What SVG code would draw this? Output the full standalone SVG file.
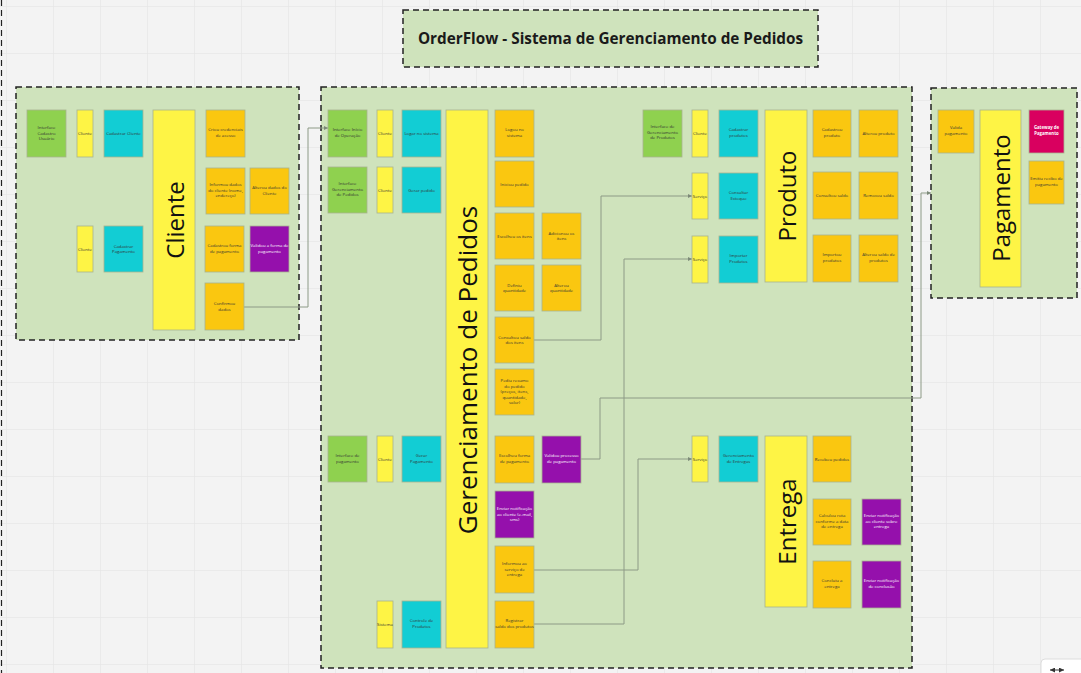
<svg xmlns="http://www.w3.org/2000/svg" width="1081" height="673" viewBox="0 0 1081 673">
<defs>
<pattern id="grid" x="6" y="6" width="47" height="47" patternUnits="userSpaceOnUse">
<path d="M47 0H0V47" fill="none" stroke="#e2e2e2" stroke-width="1"/>
</pattern>
<marker id="arr" viewBox="0 0 6 6" refX="6" refY="3" markerWidth="4" markerHeight="4" orient="auto">
<path d="M0 0L6 3L0 6z" fill="#7d8a78"/>
</marker>
<marker id="arr2" viewBox="0 0 6 6" refX="6" refY="3" markerWidth="5" markerHeight="5" orient="auto-start-reverse">
<path d="M0 0L6 3L0 6z" fill="#333"/>
</marker>
</defs>
<style>
.frame{fill:#cfe3bc;stroke:#222;stroke-width:1.5;stroke-dasharray:6 4}
.n{stroke:#a9b38f;stroke-width:0.8}
.g{fill:#8fd14f}.y{fill:#fef445}.c{fill:#12cdd4}.o{fill:#fac710}.p{fill:#9510ac}.r{fill:#d9005f}
.t{font-family:"Open Sans","Liberation Sans",sans-serif;font-size:4.3px;fill:#333;text-anchor:middle}
.tw{font-family:"Open Sans","Liberation Sans",sans-serif;font-size:4.3px;fill:#fff;text-anchor:middle}
.big{font-family:"Open Sans","Liberation Sans",sans-serif;font-size:24px;fill:#111;text-anchor:middle;dominant-baseline:central}
.title{font-family:"Open Sans","Liberation Sans",sans-serif;font-size:15.3px;font-weight:bold;fill:#1a1a1a;text-anchor:middle}
.conn{fill:none;stroke:#8d9a86;stroke-width:1}
</style>
<rect width="1081" height="673" fill="#f3f3f3"/>
<rect width="1081" height="673" fill="url(#grid)"/>
<line x1="1.5" y1="0" x2="1.5" y2="673" stroke="#222" stroke-width="1.2" stroke-dasharray="6 4"/>

<g id="title">
<rect x="403" y="10" width="415" height="57" class="frame"/>
<text x="610.5" y="43.5" class="title">OrderFlow - Sistema de Gerenciamento de Pedidos</text>
</g>

<g id="frame-cliente"><rect x="16" y="87" width="283" height="253" class="frame"/></g>
<g id="frame-pedidos"><rect x="321" y="87" width="591" height="581" class="frame"/></g>
<g id="frame-pagamento"><rect x="931" y="88" width="146" height="210" class="frame"/></g>

<g id="connectors">
<path class="conn" d="M244 307H308V128H328" marker-end="url(#arr)"/>
<path class="conn" d="M534 340H601V196H692" marker-end="url(#arr)"/>
<path class="conn" d="M534 624H624V259H692" marker-end="url(#arr)"/>
<path class="conn" d="M534 570H638V459H692" marker-end="url(#arr)"/>
<path class="conn" d="M581 459H600V398H921V193H931" marker-end="url(#arr)"/>
</g>

<!-- Cliente -->
<g id="c-int"><rect class="n g" x="27" y="110" width="39" height="47"/><text class="t" x="46.5" y="129">Interface<tspan x="46.5" dy="5.5">Cadastro</tspan><tspan x="46.5" dy="5.5">Usuário</tspan></text></g>
<g id="c-cli1"><rect class="n y" x="77" y="110" width="16" height="47"/><text class="t" x="85" y="135">Cliente</text></g>
<g id="c-cad"><rect class="n c" x="104" y="110" width="39" height="47"/><text class="t" x="123.5" y="135">Cadastrar Cliente</text></g>
<g id="c-cli2"><rect class="n y" x="77" y="226" width="16" height="46"/><text class="t" x="85" y="250.5">Cliente</text></g>
<g id="c-pag"><rect class="n c" x="104" y="226" width="39" height="46"/><text class="t" x="123.5" y="247.5">Cadastrar<tspan x="123.5" dy="5.5">Pagamento</tspan></text></g>
<g id="c-big"><rect class="n y" x="153" y="110" width="42" height="220"/><text class="big" transform="translate(174 220) rotate(-90)">Cliente</text></g>
<g id="c-o1"><rect class="n o" x="206" y="110" width="39" height="47"/><text class="t" x="225.5" y="131">Criou credenciais<tspan x="225.5" dy="5.5">de acesso</tspan></text></g>
<g id="c-o2"><rect class="n o" x="206" y="168" width="39" height="46"/><text class="t" x="225.5" y="186">Informou dados<tspan x="225.5" dy="5.5">do cliente (nome,</tspan><tspan x="225.5" dy="5.5">endereço)</tspan></text></g>
<g id="c-o3"><rect class="n o" x="250" y="168" width="39" height="46"/><text class="t" x="269.5" y="189">Alterou dados do<tspan x="269.5" dy="5.5">Cliente</tspan></text></g>
<g id="c-o4"><rect class="n o" x="205" y="226" width="39" height="46"/><text class="t" x="224.5" y="247">Cadastrou forma<tspan x="224.5" dy="5.5">de pagamento</tspan></text></g>
<g id="c-p1"><rect class="n p" x="250" y="226" width="39" height="46"/><text class="tw" x="269.5" y="247">Validou a forma de<tspan x="269.5" dy="5.5">pagamento</tspan></text></g>
<g id="c-o5"><rect class="n o" x="205" y="283" width="39" height="47"/><text class="t" x="224.5" y="305">Confirmou<tspan x="224.5" dy="5.5">dados</tspan></text></g>

<!-- Gerenciamento de Pedidos -->
<g id="g-int1"><rect class="n g" x="328" y="110" width="39" height="47"/><text class="t" x="347.5" y="131">Interface Início<tspan x="347.5" dy="5.5">de Operação</tspan></text></g>
<g id="g-cli1"><rect class="n y" x="377" y="110" width="16" height="47"/><text class="t" x="385" y="135">Cliente</text></g>
<g id="g-log"><rect class="n c" x="402" y="110" width="39" height="47"/><text class="t" x="421.5" y="135">Logar no sistema</text></g>
<g id="g-int2"><rect class="n g" x="328" y="167" width="39" height="46"/><text class="t" x="347.5" y="185">Interface<tspan x="347.5" dy="5.5">Gerenciamento</tspan><tspan x="347.5" dy="5.5">de Pedidos</tspan></text></g>
<g id="g-cli2"><rect class="n y" x="377" y="167" width="16" height="46"/><text class="t" x="385" y="191.5">Cliente</text></g>
<g id="g-ger"><rect class="n c" x="402" y="167" width="39" height="46"/><text class="t" x="421.5" y="191.5">Gerar pedido</text></g>
<g id="g-int3"><rect class="n g" x="328" y="436" width="39" height="46"/><text class="t" x="347.5" y="457">Interface de<tspan x="347.5" dy="5.5">pagamento</tspan></text></g>
<g id="g-cli3"><rect class="n y" x="377" y="436" width="16" height="46"/><text class="t" x="385" y="460.5">Cliente</text></g>
<g id="g-gpag"><rect class="n c" x="402" y="436" width="39" height="46"/><text class="t" x="421.5" y="457">Gerar<tspan x="421.5" dy="5.5">Pagamento</tspan></text></g>
<g id="g-sis"><rect class="n y" x="377" y="601" width="16" height="47"/><text class="t" x="385" y="626">Sistema</text></g>
<g id="g-ctrl"><rect class="n c" x="402" y="601" width="39" height="47"/><text class="t" x="421.5" y="622">Controle de<tspan x="421.5" dy="5.5">Produtos</tspan></text></g>
<g id="g-big"><rect class="n y" x="446" y="110" width="42" height="538"/><text class="big" style="font-size:26px" transform="translate(467 370) rotate(-90)">Gerenciamento de Pedidos</text></g>
<g id="g-o1"><rect class="n o" x="495" y="110" width="39" height="47"/><text class="t" x="514.5" y="131">Logou no<tspan x="514.5" dy="5.5">sistema</tspan></text></g>
<g id="g-o2"><rect class="n o" x="495" y="161" width="39" height="46"/><text class="t" x="514.5" y="185.5">Iniciou pedido</text></g>
<g id="g-o3"><rect class="n o" x="495" y="213" width="39" height="46"/><text class="t" x="514.5" y="237.5">Escolheu os itens</text></g>
<g id="g-o4"><rect class="n o" x="542" y="213" width="39" height="46"/><text class="t" x="561.5" y="234.5">Adicionou os<tspan x="561.5" dy="5.5">itens</tspan></text></g>
<g id="g-o5"><rect class="n o" x="495" y="265" width="39" height="46"/><text class="t" x="514.5" y="286.5">Definiu<tspan x="514.5" dy="5.5">quantidade</tspan></text></g>
<g id="g-o6"><rect class="n o" x="542" y="265" width="39" height="46"/><text class="t" x="561.5" y="286.5">Alterou<tspan x="561.5" dy="5.5">quantidade</tspan></text></g>
<g id="g-o7"><rect class="n o" x="495" y="317" width="39" height="46"/><text class="t" x="514.5" y="338.5">Consultou saldo<tspan x="514.5" dy="5.5">dos itens</tspan></text></g>
<g id="g-o8"><rect class="n o" x="495" y="369" width="39" height="46"/><text class="t" x="514.5" y="382">Pediu resumo<tspan x="514.5" dy="5.5">do pedido</tspan><tspan x="514.5" dy="5.5">(preços, itens,</tspan><tspan x="514.5" dy="5.5">quantidade,</tspan><tspan x="514.5" dy="5.5">valor)</tspan></text></g>
<g id="g-o9"><rect class="n o" x="495" y="436" width="39" height="47"/><text class="t" x="514.5" y="457">Escolheu forma<tspan x="514.5" dy="5.5">de pagamento</tspan></text></g>
<g id="g-p1"><rect class="n p" x="542" y="436" width="39" height="47"/><text class="tw" x="561.5" y="457">Validou processo<tspan x="561.5" dy="5.5">de pagamento</tspan></text></g>
<g id="g-p2"><rect class="n p" x="495" y="491" width="39" height="47"/><text class="tw" x="514.5" y="510">Enviar notificação<tspan x="514.5" dy="5.5">ao cliente (e-mail,</tspan><tspan x="514.5" dy="5.5">sms)</tspan></text></g>
<g id="g-o10"><rect class="n o" x="495" y="546" width="39" height="47"/><text class="t" x="514.5" y="565">Informou ao<tspan x="514.5" dy="5.5">serviço de</tspan><tspan x="514.5" dy="5.5">entrega</tspan></text></g>
<g id="g-o11"><rect class="n o" x="495" y="601" width="39" height="47"/><text class="t" x="514.5" y="622">Registrar<tspan x="514.5" dy="5.5">saldo dos produtos</tspan></text></g>

<!-- Produto -->
<g id="p-int"><rect class="n g" x="643" y="110" width="39" height="47"/><text class="t" x="662.5" y="128">Interface de<tspan x="662.5" dy="5.5">Gerenciamento</tspan><tspan x="662.5" dy="5.5">de Produtos</tspan></text></g>
<g id="p-cli"><rect class="n y" x="692" y="110" width="16" height="47"/><text class="t" x="700" y="135">Cliente</text></g>
<g id="p-cad"><rect class="n c" x="719" y="110" width="39" height="47"/><text class="t" x="738.5" y="131">Cadastrar<tspan x="738.5" dy="5.5">produtos</tspan></text></g>
<g id="p-srv1"><rect class="n y" x="692" y="173" width="16" height="46"/><text class="t" x="700" y="197.5">Serviço</text></g>
<g id="p-cons"><rect class="n c" x="719" y="173" width="39" height="46"/><text class="t" x="738.5" y="194">Consultar<tspan x="738.5" dy="5.5">Estoque</tspan></text></g>
<g id="p-srv2"><rect class="n y" x="692" y="236" width="16" height="47"/><text class="t" x="700" y="261">Serviço</text></g>
<g id="p-imp"><rect class="n c" x="719" y="236" width="39" height="47"/><text class="t" x="738.5" y="257">Importar<tspan x="738.5" dy="5.5">Produtos</tspan></text></g>
<g id="p-big"><rect class="n y" x="765" y="110" width="42" height="172"/><text class="big" transform="translate(786 196) rotate(-90)">Produto</text></g>
<g id="p-o1"><rect class="n o" x="813" y="110" width="38" height="47"/><text class="t" x="832" y="131">Cadastrou<tspan x="832" dy="5.5">produto</tspan></text></g>
<g id="p-o2"><rect class="n o" x="859" y="110" width="39" height="47"/><text class="t" x="878.5" y="135">Alterou produto</text></g>
<g id="p-o3"><rect class="n o" x="813" y="172" width="38" height="47"/><text class="t" x="832" y="197">Consultou saldo</text></g>
<g id="p-o4"><rect class="n o" x="859" y="172" width="39" height="47"/><text class="t" x="878.5" y="197">Removeu saldo</text></g>
<g id="p-o5"><rect class="n o" x="813" y="235" width="38" height="47"/><text class="t" x="832" y="256">Importou<tspan x="832" dy="5.5">produtos</tspan></text></g>
<g id="p-o6"><rect class="n o" x="859" y="235" width="39" height="47"/><text class="t" x="878.5" y="256">Alterou saldo de<tspan x="878.5" dy="5.5">produtos</tspan></text></g>

<!-- Entrega -->
<g id="e-srv"><rect class="n y" x="692" y="436" width="16" height="46"/><text class="t" x="700" y="460.5">Serviço</text></g>
<g id="e-ger"><rect class="n c" x="719" y="436" width="39" height="46"/><text class="t" x="738.5" y="457">Gerenciamento<tspan x="738.5" dy="5.5">de Entregas</tspan></text></g>
<g id="e-big"><rect class="n y" x="765" y="436" width="42" height="171"/><text class="big" transform="translate(786 521.5) rotate(-90)">Entrega</text></g>
<g id="e-o1"><rect class="n o" x="813" y="436" width="38" height="46"/><text class="t" x="832" y="460.5">Recebeu pedidos</text></g>
<g id="e-o2"><rect class="n o" x="813" y="499" width="38" height="46"/><text class="t" x="832" y="517">Calculou rota<tspan x="832" dy="5.5">conforme a data</tspan><tspan x="832" dy="5.5">de entrega</tspan></text></g>
<g id="e-p1"><rect class="n p" x="862" y="499" width="39" height="46"/><text class="tw" x="881.5" y="517">Enviar notificação<tspan x="881.5" dy="5.5">ao cliente sobre</tspan><tspan x="881.5" dy="5.5">entrega</tspan></text></g>
<g id="e-o3"><rect class="n o" x="813" y="561" width="38" height="47"/><text class="t" x="832" y="582">Concluiu a<tspan x="832" dy="5.5">entrega</tspan></text></g>
<g id="e-p2"><rect class="n p" x="862" y="561" width="39" height="47"/><text class="tw" x="881.5" y="582">Enviar notificação<tspan x="881.5" dy="5.5">de conclusão</tspan></text></g>

<!-- Pagamento -->
<g id="pg-o1"><rect class="n o" x="938" y="110" width="36" height="43"/><text class="t" x="956" y="129">Valida<tspan x="956" dy="5.5">pagamento</tspan></text></g>
<g id="pg-big"><rect class="n y" x="980" y="110" width="41" height="177"/><text class="big" transform="translate(1000.5 198) rotate(-90)">Pagamento</text></g>
<g id="pg-r1"><rect class="n r" x="1029" y="110" width="35" height="43"/><text class="tw" x="1046.5" y="129" font-weight="bold">Gateway de<tspan x="1046.5" dy="5.5">Pagamento</tspan></text></g>
<g id="pg-o2"><rect class="n o" x="1029" y="161" width="35" height="43"/><text class="t" x="1046.5" y="180">Emitiu recibo de<tspan x="1046.5" dy="5.5">pagamento</tspan></text></g>

<g id="ui-icon">
<rect x="1041" y="659" width="44" height="22" rx="4" fill="#fff" stroke="#ddd"/>
<line x1="1050" y1="670" x2="1064" y2="670" stroke="#333" stroke-width="1" marker-start="url(#arr2)" marker-end="url(#arr2)"/>
</g>
</svg>
